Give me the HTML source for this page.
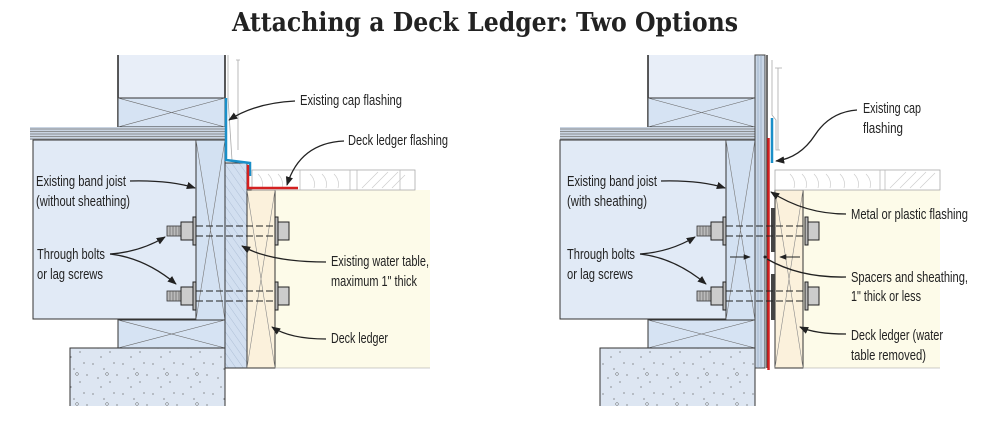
<!DOCTYPE html>
<html><head><meta charset="utf-8"><style>
html,body{margin:0;padding:0;background:#fff;}
svg{display:block;}
.t{font-family:"Liberation Sans Narrow","Liberation Sans",sans-serif;font-size:15px;fill:#222;}
.ttl{font-family:"DejaVu Serif Condensed","DejaVu Serif","Liberation Serif",serif;font-stretch:condensed;font-size:26px;fill:#222;font-weight:bold;}
</style></head><body>
<svg width="987" height="427" viewBox="0 0 987 427" xmlns="http://www.w3.org/2000/svg">
<defs>
<marker id="ah" viewBox="0 0 10 10" refX="9" refY="5" markerWidth="7" markerHeight="7" orient="auto-start-reverse"><path d="M0,1 L10,5 L0,9 z" fill="#222"/></marker>
<pattern id="spk" width="30" height="30" patternUnits="userSpaceOnUse">
<rect width="30" height="30" fill="#dde6f2"/>
<circle cx="3" cy="4" r="0.6" fill="#555"/><circle cx="14" cy="9" r="0.6" fill="#555"/><circle cx="24" cy="3" r="0.6" fill="#555"/><circle cx="8" cy="18" r="0.6" fill="#555"/><circle cx="20" cy="22" r="0.6" fill="#555"/><circle cx="27" cy="15" r="0.6" fill="#555"/><circle cx="11" cy="27" r="0.6" fill="#555"/><circle cx="17" cy="14" r="1.4" fill="none" stroke="#666" stroke-width="0.5"/>
</pattern>
<pattern id="hat" width="6" height="6" patternUnits="userSpaceOnUse" patternTransform="rotate(-35)">
<rect width="6" height="6" fill="#d2dff0"/><line x1="0" y1="0" x2="0" y2="6" stroke="#aebfd6" stroke-width="1"/>
</pattern>
<g id="bolt">
<rect x="0" y="-5" width="14" height="10" fill="#bbb" stroke="#333" stroke-width="0.8"/>
<path d="M3,-5v10M6,-5v10M9,-5v10M12,-5v10" stroke="#555" stroke-width="0.6"/>
<rect x="14" y="-9" width="12" height="18" fill="#ccc" stroke="#222" stroke-width="1"/>
<rect x="26" y="-14" width="3" height="28" fill="#bbb" stroke="#222" stroke-width="1"/>
</g>
<g id="nutR">
<rect x="0" y="-14" width="3" height="28" fill="#bbb" stroke="#222" stroke-width="1"/>
<rect x="3" y="-9" width="11" height="18" fill="#ccc" stroke="#222" stroke-width="1"/>
</g>
</defs>

<text class="ttl" x="232" y="31" textLength="506" lengthAdjust="spacingAndGlyphs">Attaching a Deck Ledger: Two Options</text>

<!-- LEFT DIAGRAM -->
<g>
<rect x="118" y="55" width="107" height="43" fill="#e8eef8"/>
<path d="M118,55V127M225,55V98" stroke="#222" stroke-width="1.5"/>
<rect x="118" y="98" width="107" height="29" fill="#d6e3f3" stroke="#333" stroke-width="1"/>
<path d="M118,98L225,127M118,127L225,98" stroke="#666" stroke-width="0.6"/>
<rect x="30" y="127" width="195" height="13" fill="#c9d4e2"/>
<path d="M30,129H225M30,131.5H225M30,134H225M30,136.5H225M30,139H225" stroke="#777" stroke-width="0.8"/>
<rect x="33" y="140" width="163" height="179" fill="#e1eaf6" stroke="#333" stroke-width="1"/>
<rect x="196" y="140" width="29" height="180" fill="#d3e1f2" stroke="#333" stroke-width="1"/>
<path d="M196,140L225,320M196,320L225,140" stroke="#777" stroke-width="0.6"/>
<rect x="118" y="320" width="107" height="28" fill="#d6e3f3" stroke="#333" stroke-width="1"/>
<path d="M118,320L225,348M118,348L225,320" stroke="#666" stroke-width="0.6"/>
<rect x="70" y="348" width="155" height="58" fill="url(#spk)"/>
<path d="M70,406V348H225V406" fill="none" stroke="#333" stroke-width="1"/>
<path d="M228,55V98L232,160M238,60V150M236,60H240" stroke="#aaa" stroke-width="0.8" fill="none"/>
<rect x="225" y="163" width="22" height="205" fill="url(#hat)" stroke="#333" stroke-width="1"/>
<rect x="275" y="190" width="155" height="178" fill="#fdfbe9"/>
<rect x="247" y="190" width="28" height="178" fill="#fbf1dc" stroke="#333" stroke-width="1"/>
<path d="M247,190L275,368M247,368L275,190" stroke="#888" stroke-width="0.6"/>
<path d="M275,368H430" stroke="#999" stroke-width="0.6"/>
<rect x="252" y="170" width="163" height="20" fill="#fff" stroke="#aaa" stroke-width="0.8"/>
<path d="M300,170V190M350,170V190M357,170V190M400,170V190" stroke="#bbb" stroke-width="0.8"/>
<path d="M258,174q6,6 4,14M268,174q6,6 4,14M278,174q6,6 4,14M310,174q6,6 4,14M322,174q6,6 4,14M334,174q6,6 4,14M362,188L378,172M372,188L388,172M382,188L398,172M392,188L405,175" stroke="#ccc" stroke-width="0.7" fill="none"/>
<path d="M226,98V160L250,163V176" stroke="#1a8fc8" stroke-width="2.5" fill="none"/>
<path d="M248,165V188H298" stroke="#d42020" stroke-width="2.5" fill="none"/>
<use href="#bolt" x="167" y="231"/>
<use href="#bolt" x="167" y="296"/>
<path d="M196,226H275M196,236H275M196,291H275M196,301H275" stroke="#222" stroke-width="1" stroke-dasharray="7,3"/>
<use href="#nutR" x="275" y="231"/>
<use href="#nutR" x="275" y="296"/>
<text class="t" x="300" y="105" textLength="102" lengthAdjust="spacingAndGlyphs">Existing cap flashing</text>
<path d="M295,101Q255,103 229,120" stroke="#222" stroke-width="1.3" fill="none" marker-end="url(#ah)"/>
<text class="t" x="348" y="145" textLength="100" lengthAdjust="spacingAndGlyphs">Deck ledger flashing</text>
<path d="M344,141Q300,143 287,185" stroke="#222" stroke-width="1.3" fill="none" marker-end="url(#ah)"/>
<text class="t" x="36" y="186" textLength="90" lengthAdjust="spacingAndGlyphs">Existing band joist</text>
<text class="t" x="36" y="206" textLength="94" lengthAdjust="spacingAndGlyphs">(without sheathing)</text>
<path d="M130,181Q170,180 195,188" stroke="#222" stroke-width="1.3" fill="none" marker-end="url(#ah)"/>
<text class="t" x="37" y="259" textLength="68" lengthAdjust="spacingAndGlyphs">Through bolts</text>
<text class="t" x="37" y="279" textLength="66" lengthAdjust="spacingAndGlyphs">or lag screws</text>
<path d="M110,254Q140,252 165,237" stroke="#222" stroke-width="1.3" fill="none" marker-end="url(#ah)"/>
<path d="M110,254Q145,258 176,284" stroke="#222" stroke-width="1.3" fill="none" marker-end="url(#ah)"/>
<text class="t" x="331" y="266" textLength="98" lengthAdjust="spacingAndGlyphs">Existing water table,</text>
<text class="t" x="331" y="286" textLength="86" lengthAdjust="spacingAndGlyphs">maximum 1" thick</text>
<path d="M326,262Q270,262 242,246" stroke="#222" stroke-width="1.3" fill="none" marker-end="url(#ah)"/>
<text class="t" x="331" y="343" textLength="57" lengthAdjust="spacingAndGlyphs">Deck ledger</text>
<path d="M326,339Q290,339 272,327" stroke="#222" stroke-width="1.3" fill="none" marker-end="url(#ah)"/>
</g>

<!-- RIGHT DIAGRAM -->
<g>
<rect x="648" y="55" width="107" height="43" fill="#e8eef8"/>
<path d="M648,55V127" stroke="#222" stroke-width="1.5"/>
<rect x="648" y="98" width="107" height="29" fill="#d6e3f3" stroke="#333" stroke-width="1"/>
<path d="M648,98L755,127M648,127L755,98" stroke="#666" stroke-width="0.6"/>
<rect x="560" y="127" width="195" height="13" fill="#c9d4e2"/>
<path d="M560,129H755M560,131.5H755M560,134H755M560,136.5H755M560,139H755" stroke="#777" stroke-width="0.8"/>
<rect x="560" y="140" width="166" height="179" fill="#e1eaf6" stroke="#333" stroke-width="1"/>
<rect x="726" y="140" width="29" height="180" fill="#d3e1f2" stroke="#333" stroke-width="1"/>
<path d="M726,140L755,320M726,320L755,140" stroke="#777" stroke-width="0.6"/>
<rect x="648" y="320" width="107" height="28" fill="#d6e3f3" stroke="#333" stroke-width="1"/>
<path d="M648,320L755,348M648,348L755,320" stroke="#666" stroke-width="0.6"/>
<rect x="600" y="348" width="155" height="58" fill="url(#spk)"/>
<path d="M600,406V348H755V406" fill="none" stroke="#333" stroke-width="1"/>
<rect x="755" y="55" width="10" height="313" fill="#c9d6e6" stroke="#444" stroke-width="1"/>
<path d="M758,55V368M761,55V368" stroke="#8aa0bc" stroke-width="0.6"/>
<path d="M767,55V368" stroke="#222" stroke-width="1.3"/>
<path d="M778,68V150M775,68H782M772,60V115L776,120V150H780" stroke="#aaa" stroke-width="0.8" fill="none"/>
<rect x="803" y="190" width="137" height="178" fill="#fdfbe9"/>
<rect x="775" y="190" width="28" height="178" fill="#fbf1dc" stroke="#333" stroke-width="1"/>
<path d="M775,190L803,368M775,368L803,190" stroke="#888" stroke-width="0.6"/>
<path d="M803,368H940" stroke="#999" stroke-width="0.6"/>
<rect x="775" y="170" width="165" height="20" fill="#fff" stroke="#aaa" stroke-width="0.8"/>
<path d="M880,170V190M885,170V190" stroke="#bbb" stroke-width="0.8"/>
<path d="M790,174q6,6 4,14M802,174q6,6 4,14M814,174q6,6 4,14M826,174q6,6 4,14M840,174q6,6 4,14M854,174q6,6 4,14M866,174q6,6 4,14M890,188L906,172M900,188L916,172M910,188L926,172M920,188L935,173" stroke="#ccc" stroke-width="0.7" fill="none"/>
<rect x="771" y="208" width="4" height="44" fill="#444"/>
<rect x="771" y="274" width="4" height="46" fill="#444"/>
<path d="M768.5,138V370" stroke="#d42020" stroke-width="2.5"/>
<path d="M772,118V163" stroke="#1a8fc8" stroke-width="2.5"/>
<use href="#bolt" x="697" y="231"/>
<use href="#bolt" x="697" y="296"/>
<path d="M726,226H805M726,236H805M726,291H805M726,301H805" stroke="#222" stroke-width="1" stroke-dasharray="7,3"/>
<use href="#nutR" x="805" y="231"/>
<use href="#nutR" x="805" y="296"/>
<path d="M730,257H750" stroke="#222" stroke-width="1" marker-end="url(#ah)"/>
<path d="M800,257H780" stroke="#222" stroke-width="1" marker-end="url(#ah)"/>
<circle cx="765" cy="257" r="1.5" fill="#222"/>
<text class="t" x="863" y="113" textLength="58" lengthAdjust="spacingAndGlyphs">Existing cap</text>
<text class="t" x="863" y="133" textLength="40" lengthAdjust="spacingAndGlyphs">flashing</text>
<path d="M857,110Q830,112 815,135Q800,158 776,161" stroke="#222" stroke-width="1.3" fill="none" marker-end="url(#ah)"/>
<text class="t" x="567" y="186" textLength="90" lengthAdjust="spacingAndGlyphs">Existing band joist</text>
<text class="t" x="567" y="206" textLength="80" lengthAdjust="spacingAndGlyphs">(with sheathing)</text>
<path d="M661,181Q700,180 725,188" stroke="#222" stroke-width="1.3" fill="none" marker-end="url(#ah)"/>
<text class="t" x="851" y="219" textLength="117" lengthAdjust="spacingAndGlyphs">Metal or plastic flashing</text>
<path d="M846,214Q805,214 771,192" stroke="#222" stroke-width="1.3" fill="none" marker-end="url(#ah)"/>
<text class="t" x="567" y="259" textLength="68" lengthAdjust="spacingAndGlyphs">Through bolts</text>
<text class="t" x="567" y="279" textLength="66" lengthAdjust="spacingAndGlyphs">or lag screws</text>
<path d="M640,254Q670,252 695,237" stroke="#222" stroke-width="1.3" fill="none" marker-end="url(#ah)"/>
<path d="M640,254Q675,258 706,284" stroke="#222" stroke-width="1.3" fill="none" marker-end="url(#ah)"/>
<text class="t" x="851" y="282" textLength="117" lengthAdjust="spacingAndGlyphs">Spacers and sheathing,</text>
<text class="t" x="851" y="301" textLength="70" lengthAdjust="spacingAndGlyphs">1" thick or less</text>
<path d="M846,277Q800,278 767,259" stroke="#222" stroke-width="1.3" fill="none"/>
<text class="t" x="851" y="340" textLength="92" lengthAdjust="spacingAndGlyphs">Deck ledger (water</text>
<text class="t" x="851" y="360" textLength="75" lengthAdjust="spacingAndGlyphs">table removed)</text>
<path d="M846,334Q815,334 800,327" stroke="#222" stroke-width="1.3" fill="none" marker-end="url(#ah)"/>
</g>
</svg>
</body></html>
